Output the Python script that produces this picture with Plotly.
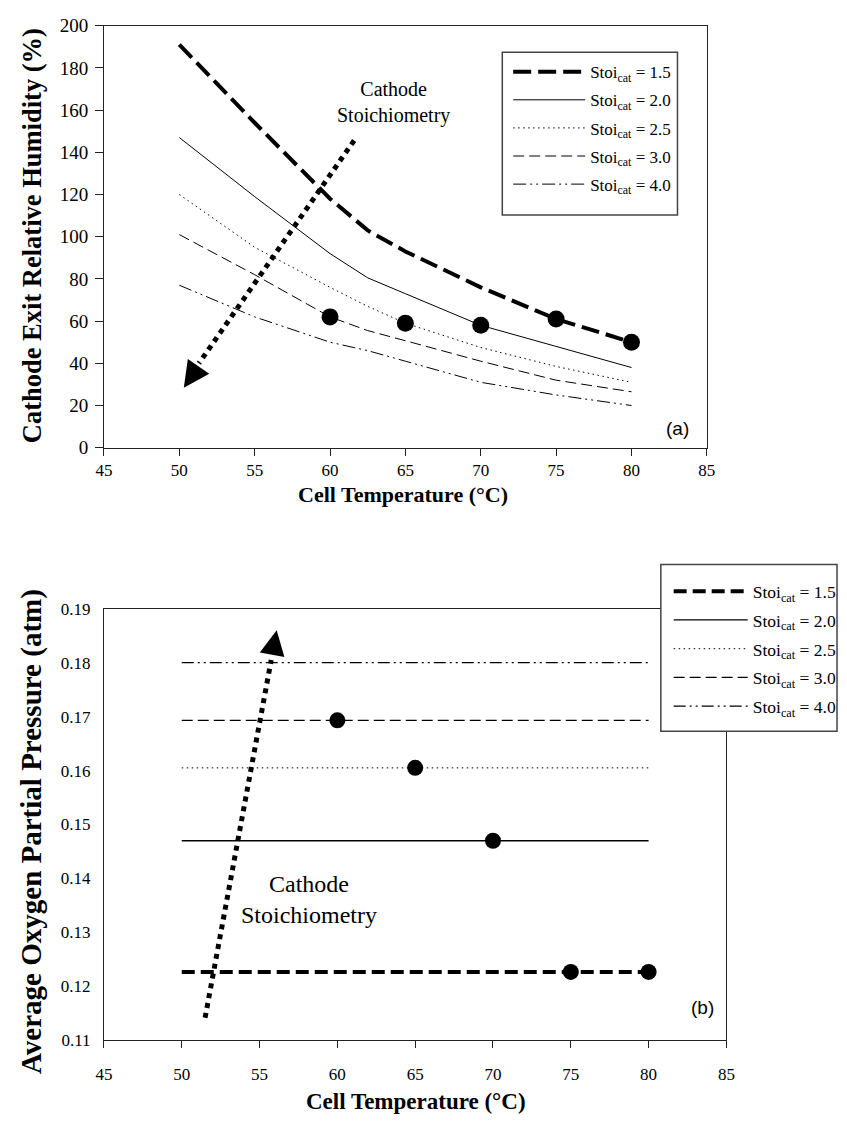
import plotly.graph_objects as go

# ---------------- data ----------------
temp = [50, 55, 60, 62.5, 65, 70, 75, 80]
rh_15 = [191, 154, 118, 103, 93, 76, 61, 50]
rh_20 = [147, 119, 92, 80.5, 73, 58, 48, 38]
rh_25 = [120, 95, 76, 67, 59, 47.5, 38.5, 31]
rh_30 = [101, 82, 62, 55.5, 50.7, 41, 32, 26.5]
rh_40 = [77, 62, 50, 46, 41, 31, 25, 20]
rh_mark_x = [60, 65, 70, 75, 80]
rh_mark_y = [62, 59, 58, 61, 50]

temp_b = [50, 55, 60, 65, 70, 75, 80]
po2_15 = [0.1227, 0.1227, 0.1227, 0.1227, 0.1227, 0.1227, 0.1227]
po2_20 = [0.147, 0.147, 0.147, 0.147, 0.147, 0.147, 0.147]
po2_25 = [0.1605, 0.1605, 0.1605, 0.1605, 0.1605, 0.1605, 0.1605]
po2_30 = [0.1693, 0.1693, 0.1693, 0.1693, 0.1693, 0.1693, 0.1693]
po2_40 = [0.180, 0.180, 0.180, 0.180, 0.180, 0.180, 0.180]
po2_mark_x = [60, 65, 70, 75, 80]
po2_mark_y = [0.1693, 0.1605, 0.147, 0.1227, 0.1227]

labels = ["Stoi<sub>cat</sub> = 1.5", "Stoi<sub>cat</sub> = 2.0", "Stoi<sub>cat</sub> = 2.5",
          "Stoi<sub>cat</sub> = 3.0", "Stoi<sub>cat</sub> = 4.0"]

arrow_a_x = [61.6, 51.3]
arrow_a_y = [145.6, 40]
arrow_a_tip = (50.3, 28.4)
arrow_b_x = [51.5, 55.75]
arrow_b_y = [0.1142, 0.1805]
arrow_b_tip = (56.1, 0.186)

x_ticks = [45, 50, 55, 60, 65, 70, 75, 80, 85]
y_ticks_a = [0, 20, 40, 60, 80, 100, 120, 140, 160, 180, 200]
y_ticks_b = [0.11, 0.12, 0.13, 0.14, 0.15, 0.16, 0.17, 0.18, 0.19]

# ---------------- styles ----------------
SERIF = "Liberation Serif"
styles_a = [
    dict(color="black", width=4, dash="18px,7px"),
    dict(color="black", width=1, dash="solid"),
    dict(color="black", width=1, dash="1.5px,3.5px"),
    dict(color="black", width=1, dash="11px,5px"),
    dict(color="black", width=1, dash="13px,4px,2px,4px,2px,4px"),
]
styles_b = [
    dict(color="black", width=4, dash="13px,6px"),
    dict(color="black", width=1.3, dash="solid"),
    dict(color="black", width=1, dash="1.5px,3.5px"),
    dict(color="black", width=1.3, dash="11px,5px"),
    dict(color="black", width=1.3, dash="12px,4px,2px,4px,2px,4px"),
]

fig = go.Figure()

for i, ys in enumerate([rh_15, rh_20, rh_25, rh_30, rh_40]):
    fig.add_trace(go.Scatter(x=temp, y=ys, mode="lines", line=styles_a[i],
                             name=labels[i], legend="legend", legendgroup=f"a{i}",
                             xaxis="x", yaxis="y"))
fig.add_trace(go.Scatter(x=rh_mark_x, y=rh_mark_y, mode="markers",
                         marker=dict(color="black", size=17), showlegend=False,
                         xaxis="x", yaxis="y"))
fig.add_trace(go.Scatter(x=arrow_a_x, y=arrow_a_y, mode="lines",
                         line=dict(color="black", width=5, dash="5px,5px"),
                         showlegend=False, xaxis="x", yaxis="y"))

for i, ys in enumerate([po2_15, po2_20, po2_25, po2_30, po2_40]):
    fig.add_trace(go.Scatter(x=temp_b, y=ys, mode="lines", line=styles_b[i],
                             name=labels[i], legend="legend2", legendgroup=f"b{i}",
                             xaxis="x2", yaxis="y2"))
fig.add_trace(go.Scatter(x=po2_mark_x, y=po2_mark_y, mode="markers",
                         marker=dict(color="black", size=16), showlegend=False,
                         xaxis="x2", yaxis="y2"))
fig.add_trace(go.Scatter(x=arrow_b_x, y=arrow_b_y, mode="lines",
                         line=dict(color="black", width=5, dash="5px,5px"),
                         showlegend=False, xaxis="x2", yaxis="y2"))

W, H = 847, 1128
def px_x(p):
    return p / W
def px_y(p):
    return 1 - p / H

line_col = "#222"
axis_common = dict(showgrid=False, zeroline=False, showline=True, linecolor=line_col,
                   linewidth=1, mirror=True)

legend_common = dict(bgcolor="rgba(0,0,0,0)", borderwidth=0,
                     xanchor="left", yanchor="top", itemclick=False)

fig.update_layout(
    width=W, height=H, margin=dict(l=0, r=0, t=0, b=0),
    paper_bgcolor="white", plot_bgcolor="white",
    xaxis=dict(domain=[px_x(97), px_x(713)], range=[45, 85], tickvals=x_ticks,
               anchor="y", ticks="outside", ticklen=7, tickcolor=line_col,
               tickfont=dict(family=SERIF, size=17, color="black"), **axis_common),
    yaxis=dict(domain=[px_y(446), px_y(16)], range=[0, 200], tickvals=y_ticks_a,
               anchor="x", ticks="outside", ticklen=8, tickcolor=line_col,
               ticklabelstandoff=3,
               tickfont=dict(family=SERIF, size=19, color="black"), **axis_common),
    xaxis2=dict(domain=[px_x(97), px_x(733)], range=[45, 85], tickvals=x_ticks,
                anchor="y2", ticks="outside", ticklen=7, tickcolor=line_col,
                ticklabelstandoff=11,
                tickfont=dict(family=SERIF, size=17, color="black"), **axis_common),
    yaxis2=dict(domain=[px_y(1050), px_y(610)], range=[0.11, 0.19], tickvals=y_ticks_b,
                tickformat=".2f", anchor="x2", ticks="", ticklabelstandoff=9,
                tickfont=dict(family=SERIF, size=17, color="black"), **axis_common),
    legend=dict(x=px_x(510), y=px_y(45), itemwidth=72, tracegroupgap=3,
                font=dict(family=SERIF, size=17, color="black"), **legend_common),
    legend2=dict(x=px_x(674), y=px_y(574), itemwidth=74, tracegroupgap=3,
                 font=dict(family=SERIF, size=17.5, color="black"), **legend_common),
    showlegend=True,
)

# legend boxes
fig.add_shape(type="rect", xref="paper", yref="paper", x0=px_x(504), x1=px_x(683),
              y0=px_y(209), y1=px_y(43), line=dict(color="#444", width=1.5),
              fillcolor="white", layer="above")
fig.add_shape(type="rect", xref="paper", yref="paper", x0=px_x(666), x1=px_x(846),
              y0=px_y(735), y1=px_y(565), line=dict(color="#444", width=1.5),
              fillcolor="white", layer="above")

def pann(text, x, y, size, family=SERIF, angle=0):
    return dict(text=text, x=px_x(x), y=px_y(y), xref="paper", yref="paper",
                xanchor="center", yanchor="middle", showarrow=False, textangle=angle,
                font=dict(family=family, size=size, color="black"))

ann = []
ann.append(pann("<b>Cell Temperature (°C)</b>", 403, 494, 22))
ann.append(pann("<b>Cell Temperature (°C)</b>", 416, 1112, 23))
ann.append(pann("<b>Cathode Exit Relative Humidity (%)</b>", 23, 230, 26.5, angle=-90))
ann.append(pann("<b>Average Oxygen Partial Pressure (atm)</b>", 23, 837, 29, angle=-90))
ann.append(pann("(a)", 683, 426, 19, family="Liberation Sans"))
ann.append(pann("(b)", 709, 1016, 19, family="Liberation Sans"))
ann.append(dict(text="Cathode<br>Stoichiometry", x=64.2, y=163.6, xref="x", yref="y",
                xanchor="center", yanchor="middle", showarrow=False,
                font=dict(family=SERIF, size=20, color="black")))
ann.append(dict(text="Cathode<br>Stoichiometry", x=58.2, y=0.1362, xref="x2", yref="y2",
                xanchor="center", yanchor="middle", showarrow=False,
                font=dict(family=SERIF, size=24, color="black")))
# arrow heads
ann.append(dict(text="", x=arrow_a_tip[0], y=arrow_a_tip[1], xref="x", yref="y",
                showarrow=True, arrowhead=2, arrowsize=2.6, arrowwidth=2, arrowcolor="black",
                ax=13.6, ay=-19.8))
ann.append(dict(text="", x=arrow_b_tip[0], y=arrow_b_tip[1], xref="x2", yref="y2",
                showarrow=True, arrowhead=2, arrowsize=2.5, arrowwidth=2, arrowcolor="black",
                ax=-4.4, ay=23.6))
fig.update_layout(annotations=ann)

fig.write_html("out.html")
